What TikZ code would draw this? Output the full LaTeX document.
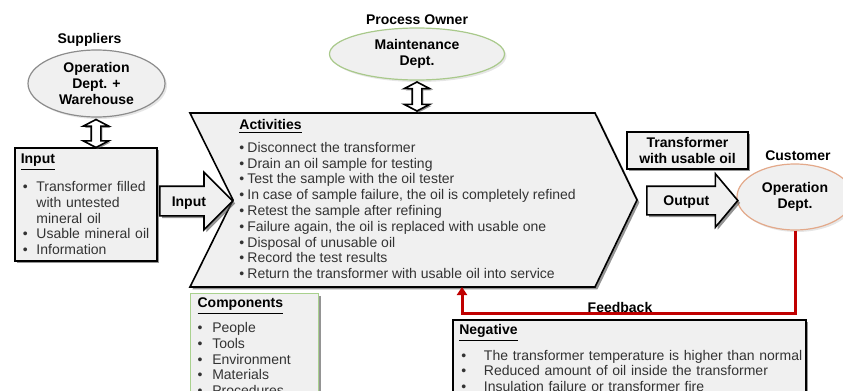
\documentclass[tikz,border=0pt]{standalone}
\usepackage{fontspec}
\setmainfont{Liberation Sans}
\usetikzlibrary{
		positioning,
		arrows.meta,
		shapes.geometric,
		shapes.arrows,
		shadows
	}
\definecolor{boxgray}{HTML}{F0F0F0}
\definecolor{ellgray}{HTML}{8C8C8C}
\definecolor{ellgreen}{HTML}{A9C98B}
\definecolor{ellorange}{HTML}{E3A98A}
\definecolor{compgreen}{HTML}{A9D18E}
\definecolor{fbred}{HTML}{C00000}
\definecolor{listtext}{HTML}{333333}
\newcommand{\bul}[1][4pt]{\makebox[#1][l]{\textbullet}}
\newcommand{\nobul}[1][4pt]{\hspace*{#1}}

\begin{document}
\begin{tikzpicture}[x=0.5pt,y=-0.5pt,node distance=2pt,font=\fontsize{7}{7.9}\selectfont]
	\tikzstyle{label}=[font=\fontsize{7}{7.9}\selectfont\bfseries, inner sep=1pt]
	\tikzstyle{party}=[ellipse, draw, fill=boxgray, line width=0.6pt, inner sep=0pt, align=center, font=\fontsize{7}{8}\selectfont\bfseries, drop shadow={shadow xshift=1pt, shadow yshift=-1pt, opacity=0.2}]
	\tikzstyle{listbox}=[draw, rectangle, fill=boxgray, line width=0.8pt, anchor=north west, align=left, inner ysep=3pt, text=listtext, drop shadow={shadow xshift=1.2pt, shadow yshift=-1.2pt, fill=black!70, opacity=0.6}]
	\tikzstyle{fatarrow}=[single arrow, draw, fill=boxgray, line width=0.8pt, anchor=tail, font=\fontsize{7}{7.9}\selectfont\bfseries, text height=5pt, text depth=0pt, inner xsep=1pt, drop shadow={shadow xshift=1.2pt, shadow yshift=-1.2pt, fill=black!70, opacity=0.6}]
	\tikzstyle{dblarrow}=[double arrow, draw, fill=white, line width=0.8pt, shape border rotate=90, inner sep=2pt, double arrow head extend=4pt, double arrow tip angle=125, minimum width=12pt, drop shadow={shadow xshift=0.8pt, shadow yshift=-0.8pt, fill=black!70, opacity=0.6}]
	\tikzstyle{chevron}=[draw, fill=boxgray, line width=0.8pt, drop shadow={shadow xshift=1.2pt, shadow yshift=-1.2pt, fill=black!70, opacity=0.6}]
	\tikzstyle{feedback}=[draw=fbred, line width=1.5pt, -{Triangle[length=4pt,width=5pt]}]
	\useasboundingbox (0,0) rectangle (843,391);
	\clip (0,0) rectangle (843,391);
	% Parties
	\node[party, draw=ellgray, minimum width=68.5pt, minimum height=33.5pt] (sup) at (96.5,83.5) {Operation\\Dept. +\\Warehouse};
	\node[label] (suplab) [above = 0.5pt of sup, xshift=-3.5pt] {Suppliers};
	\node[party, draw=ellgreen, minimum width=87.5pt, minimum height=26pt] (owner) at (417,54) {Maintenance\\Dept.};
	\node[label] (ownerlab) [above = 0pt of owner] {Process Owner};
	\node[party, draw=ellorange, minimum width=58pt, minimum height=33pt] (cust) at (795,197) {Operation\\Dept.};
	\node[label] (custlab) [above = 0pt of cust, xshift=1.5pt] {Customer};
	% Process chevron
	\draw[chevron] (190,113) -- (595,113) -- (637,200) -- (595,287) -- (190,287) -- (233,200) -- cycle;
	\coordinate (fbin) at (462,287);
	\coordinate (fbrow) at (0,313);
	\node[anchor=north west, inner sep=0pt, align=left, text=listtext] (acts) at (239,119) {%
		\textcolor{black}{\underline{\textbf{Activities}}}\\[3.5pt]
		\bul Disconnect the transformer\\
		\bul Drain an oil sample for testing\\
		\bul Test the sample with the oil tester\\
		\bul In case of sample failure, the oil is completely refined\\
		\bul Retest the sample after refining\\
		\bul Failure again, the oil is replaced with usable one\\
		\bul Disposal of unusable oil\\
		\bul Record the test results\\
		\bul Return the transformer with usable oil into service};
	% Input side
	\node[listbox, text width=65pt, inner xsep=3pt] (inbox) at (14,147) {%
		\textcolor{black}{\underline{\textbf{Input}}}\\[4.5pt]
		\hspace*{1pt}\bul[4.5pt] Transformer filled\\
		\hspace*{1pt}\nobul[4.5pt] with untested\\
		\hspace*{1pt}\nobul[4.5pt] mineral oil\\
		\hspace*{1pt}\bul[4.5pt] Usable mineral oil\\
		\hspace*{1pt}\bul[4.5pt] Information};
	\node[fatarrow, minimum height=36.5pt, minimum width=28pt, inner ysep=4.5pt, single arrow head extend=7pt] (inarr) at (159,201) {Input};
	\node[dblarrow, minimum height=14pt] (supdbl) at (96,133.5) {};
	\node[dblarrow, minimum height=14.5pt] (ownerdbl) at (417,96.5) {};
	% Output side
	\node[draw, rectangle, fill=boxgray, line width=0.8pt, minimum width=60.5pt, minimum height=18.5pt, inner sep=1pt, align=center, font=\fontsize{7}{7.6}\selectfont\bfseries, drop shadow={shadow xshift=1.2pt, shadow yshift=-1.2pt, fill=black!70, opacity=0.6}] (outtxt) at (687.5,150.5) {Transformer\\with usable oil};
	\node[fatarrow, minimum height=45.5pt, minimum width=26pt, inner ysep=4.25pt, single arrow head extend=6.25pt, single arrow tip angle=100] (outarr) at (646,200.5) {Output};
	% Components and feedback
	\node[listbox, draw=compgreen, line width=0.6pt, drop shadow={opacity=0}, text width=57pt, inner xsep=3.5pt, inner ysep=2pt] (comp) at (190,293) {%
		\textcolor{black}{\underline{\textbf{Components}}}\\[3pt]
		\bul[5pt] People\\
		\bul[5pt] Tools\\
		\bul[5pt] Environment\\
		\bul[5pt] Materials\\
		\bul[5pt] Procedures};
	\draw[feedback] (cust.south) |- (fbin |- fbrow) -- (fbin);
	\node[label] (fblab) at (620,307) {Feedback};
	\node[listbox, text width=173pt, inner xsep=1.75pt, inner ysep=2.5pt] (neg) at (452,319) {%
		\hspace*{1.5pt}\textcolor{black}{\underline{\textbf{Negative}}}\\[3pt]
		\hspace*{2.5pt}\bul[9pt] The transformer temperature is higher than normal\\
		\hspace*{2.5pt}\bul[9pt] Reduced amount of oil inside the transformer\\
		\hspace*{2.5pt}\bul[9pt] Insulation failure or transformer fire\\
		\hspace*{2.5pt}\nobul[9pt] };
\end{tikzpicture}
\end{document}
